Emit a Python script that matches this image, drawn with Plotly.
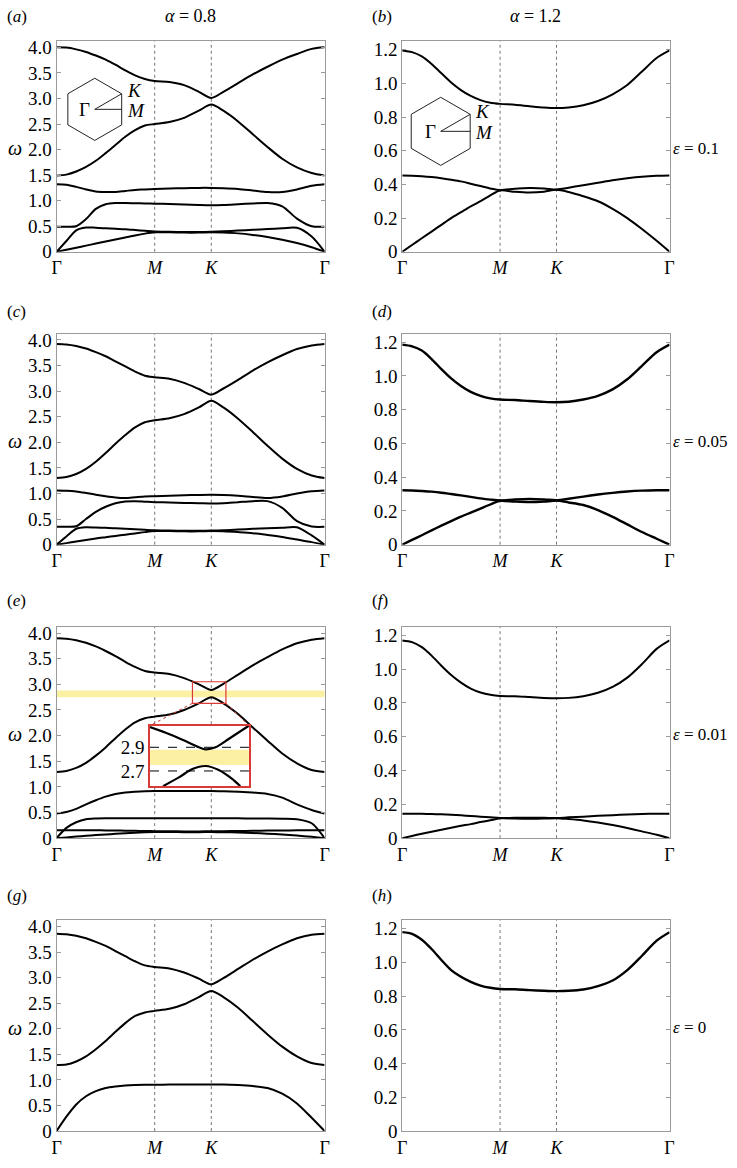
import math
import plotly.graph_objects as go

W, H = 737, 1168

# ---------------- data ----------------
kpath = [0.0, 0.1, 0.2, 0.3, 0.4, 0.5, 0.6, 0.7, 0.8, 0.9, 1.0, 1.15, 1.3, 1.45, 1.577,
         1.7, 1.85, 2.0, 2.15, 2.3, 2.45, 2.6, 2.732]
sym_pos = [0.0, 1.0, 1.577, 2.732]
sym_text = ['Γ', '<i>M</i>', '<i>K</i>', 'Γ']

left_ticks = [0, 0.5, 1.0, 1.5, 2.0, 2.5, 3.0, 3.5, 4.0]
left_tick_text = ['0', '0.5', '1.0', '1.5', '2.0', '2.5', '3.0', '3.5', '4.0']
right_ticks = [0, 0.2, 0.4, 0.6, 0.8, 1.0, 1.2]
right_tick_text = ['0', '0.2', '0.4', '0.6', '0.8', '1.0', '1.2']

# (a) alpha=0.8, eps=0.1
a_b1 = [0.0, 0.04, 0.08, 0.12, 0.16, 0.20, 0.24, 0.28, 0.32, 0.355, 0.38, 0.38, 0.375, 0.375, 0.38,
        0.375, 0.36, 0.33, 0.29, 0.235, 0.17, 0.09, 0.0]
a_b2 = [0.0, 0.21, 0.42, 0.475, 0.47, 0.46, 0.45, 0.44, 0.425, 0.41, 0.395, 0.39, 0.385, 0.385, 0.39,
        0.40, 0.415, 0.43, 0.445, 0.46, 0.47, 0.30, 0.0]
a_b3 = [0.49, 0.49, 0.50, 0.64, 0.84, 0.93, 0.955, 0.955, 0.95, 0.945, 0.94, 0.935, 0.925, 0.915, 0.91,
        0.915, 0.93, 0.945, 0.955, 0.89, 0.65, 0.50, 0.49]
a_b4 = [1.32, 1.31, 1.27, 1.22, 1.18, 1.17, 1.17, 1.19, 1.21, 1.22, 1.23, 1.24, 1.245, 1.25, 1.25,
        1.245, 1.23, 1.20, 1.17, 1.17, 1.22, 1.29, 1.32]
a_b5 = [1.49, 1.51, 1.57, 1.66, 1.78, 1.93, 2.09, 2.25, 2.38, 2.47, 2.50, 2.54, 2.62, 2.76, 2.88,
        2.76, 2.55, 2.30, 2.05, 1.82, 1.65, 1.54, 1.49]
a_b6 = [4.00, 3.995, 3.96, 3.91, 3.84, 3.76, 3.66, 3.55, 3.45, 3.38, 3.34, 3.32, 3.26, 3.13, 3.01,
        3.13, 3.30, 3.47, 3.62, 3.76, 3.87, 3.97, 4.00]

# (b) alpha=1.2, eps=0.1
b_b1 = [0.0, 0.04, 0.08, 0.12, 0.16, 0.20, 0.235, 0.27, 0.30, 0.335, 0.364, 0.356, 0.352, 0.357, 0.368,
        0.355, 0.33, 0.30, 0.255, 0.20, 0.135, 0.065, 0.0]
b_b2 = [0.453, 0.452, 0.449, 0.444, 0.437, 0.428, 0.418, 0.404, 0.39, 0.376, 0.366, 0.374, 0.378, 0.376, 0.37,
        0.38, 0.395, 0.41, 0.425, 0.437, 0.446, 0.451, 0.453]
b_b3 = [1.195, 1.185, 1.16, 1.115, 1.06, 1.005, 0.96, 0.925, 0.90, 0.885, 0.878, 0.873, 0.864, 0.856, 0.853,
        0.857, 0.87, 0.895, 0.935, 0.99, 1.07, 1.15, 1.195]

# (c) alpha=0.8, eps=0.05
c_b1 = [0.0, 0.03, 0.06, 0.09, 0.12, 0.145, 0.17, 0.195, 0.22, 0.245, 0.265, 0.265, 0.26, 0.26, 0.265,
        0.26, 0.245, 0.225, 0.19, 0.15, 0.10, 0.05, 0.0]
c_b2 = [0.0, 0.16, 0.31, 0.34, 0.335, 0.33, 0.32, 0.31, 0.30, 0.29, 0.28, 0.275, 0.27, 0.27, 0.275,
        0.28, 0.295, 0.31, 0.32, 0.33, 0.34, 0.18, 0.0]
c_b3 = [0.35, 0.35, 0.36, 0.50, 0.64, 0.74, 0.81, 0.845, 0.85, 0.84, 0.83, 0.825, 0.815, 0.81, 0.805,
        0.81, 0.83, 0.85, 0.85, 0.72, 0.46, 0.355, 0.35]
c_b4 = [1.06, 1.055, 1.04, 1.01, 0.975, 0.945, 0.92, 0.91, 0.925, 0.94, 0.946, 0.955, 0.965, 0.972, 0.975,
        0.97, 0.955, 0.93, 0.91, 0.94, 1.00, 1.045, 1.06]
c_b5 = [1.30, 1.32, 1.38, 1.48, 1.62, 1.79, 1.97, 2.14, 2.29, 2.39, 2.43, 2.47, 2.55, 2.68, 2.81,
        2.68, 2.46, 2.20, 1.93, 1.68, 1.48, 1.35, 1.30]
c_b6 = [3.92, 3.91, 3.88, 3.83, 3.76, 3.68, 3.58, 3.48, 3.38, 3.30, 3.27, 3.24, 3.16, 3.04, 2.93,
        3.05, 3.22, 3.40, 3.56, 3.70, 3.82, 3.89, 3.92]

# (d) alpha=1.2, eps=0.05
d_b1 = [0.0, 0.028, 0.056, 0.085, 0.113, 0.14, 0.166, 0.19, 0.214, 0.238, 0.26, 0.255, 0.252, 0.255, 0.261,
        0.25, 0.235, 0.205, 0.165, 0.12, 0.075, 0.035, 0.0]
d_b2 = [0.322, 0.321, 0.318, 0.314, 0.308, 0.30, 0.292, 0.283, 0.274, 0.267, 0.262, 0.268, 0.271, 0.268, 0.263,
        0.272, 0.285, 0.297, 0.307, 0.315, 0.32, 0.322, 0.322]
d_b3 = [1.185, 1.175, 1.15, 1.10, 1.04, 0.985, 0.94, 0.905, 0.882, 0.867, 0.86, 0.857, 0.851, 0.846, 0.844,
        0.847, 0.86, 0.882, 0.92, 0.98, 1.06, 1.14, 1.185]

# (e) alpha=0.8, eps=0.01
e_b1 = [0.0, 0.015, 0.03, 0.045, 0.06, 0.072, 0.084, 0.095, 0.105, 0.113, 0.118, 0.118, 0.117, 0.117, 0.118,
        0.116, 0.11, 0.10, 0.087, 0.07, 0.05, 0.025, 0.0]
e_b2 = [0.155, 0.155, 0.155, 0.154, 0.153, 0.151, 0.149, 0.146, 0.143, 0.14, 0.137, 0.134, 0.132, 0.132, 0.134,
        0.137, 0.14, 0.143, 0.147, 0.15, 0.153, 0.155, 0.155]
e_b3 = [0.0, 0.20, 0.31, 0.37, 0.385, 0.39, 0.39, 0.39, 0.39, 0.39, 0.39, 0.39, 0.39, 0.388, 0.387,
        0.387, 0.386, 0.385, 0.383, 0.38, 0.37, 0.29, 0.0]
e_b4 = [0.48, 0.51, 0.57, 0.66, 0.74, 0.81, 0.86, 0.89, 0.905, 0.915, 0.92, 0.92, 0.92, 0.92, 0.92,
        0.915, 0.905, 0.89, 0.86, 0.79, 0.66, 0.55, 0.48]
e_b5 = [1.29, 1.31, 1.37, 1.47, 1.61, 1.77, 1.95, 2.12, 2.26, 2.34, 2.37, 2.41, 2.50, 2.63, 2.75,
        2.63, 2.42, 2.16, 1.90, 1.65, 1.46, 1.33, 1.29]
e_b6 = [3.90, 3.89, 3.86, 3.81, 3.74, 3.65, 3.55, 3.44, 3.34, 3.26, 3.23, 3.20, 3.12, 3.00, 2.89,
        3.01, 3.19, 3.37, 3.53, 3.68, 3.80, 3.87, 3.90]

# (e) zoomed inset near K
ins_up_x = [1.385, 1.452, 1.509, 1.554, 1.577, 1.611, 1.656, 1.726]
ins_up_y = [3.07, 3.01, 2.95, 2.90, 2.883, 2.90, 2.97, 3.083]
ins_lo_x = [1.430, 1.486, 1.531, 1.577, 1.622, 1.668, 1.696]
ins_lo_y = [2.572, 2.648, 2.717, 2.742, 2.708, 2.633, 2.572]
ins_levels = [2.9, 2.7]
ins_level_text = ['2.9', '2.7']
gap_band = [2.75, 2.88]
zoom_box_x = [1.385, 1.726]
zoom_box_y = [2.63, 3.05]
inset_range_y = [2.572, 3.083]

# (f) alpha=1.2, eps=0.01
f_b1 = [0.0, 0.013, 0.026, 0.038, 0.05, 0.062, 0.073, 0.083, 0.095, 0.106, 0.117, 0.116, 0.115, 0.116, 0.118,
        0.113, 0.105, 0.093, 0.078, 0.06, 0.04, 0.02, 0.0]
f_b2 = [0.145, 0.145, 0.144, 0.143, 0.141, 0.138, 0.135, 0.131, 0.127, 0.123, 0.119, 0.12, 0.12, 0.12, 0.119,
        0.123, 0.127, 0.132, 0.136, 0.14, 0.143, 0.145, 0.145]
f_b3 = [1.17, 1.16, 1.13, 1.08, 1.02, 0.965, 0.92, 0.885, 0.862, 0.848, 0.841, 0.84, 0.835, 0.83, 0.828,
        0.83, 0.84, 0.86, 0.895, 0.95, 1.03, 1.12, 1.17]

# (g) alpha=0.8, eps=0
g_b1 = [0.0, 0.28, 0.52, 0.68, 0.78, 0.84, 0.87, 0.89, 0.90, 0.905, 0.905, 0.91, 0.91, 0.91, 0.91,
        0.91, 0.90, 0.88, 0.84, 0.73, 0.54, 0.26, 0.0]
g_b2 = [1.29, 1.30, 1.36, 1.46, 1.60, 1.76, 1.94, 2.11, 2.25, 2.32, 2.35, 2.39, 2.48, 2.62, 2.74,
        2.62, 2.41, 2.15, 1.89, 1.65, 1.46, 1.33, 1.29]
g_b3 = [3.86, 3.85, 3.82, 3.77, 3.70, 3.62, 3.52, 3.42, 3.32, 3.24, 3.21, 3.18, 3.10, 2.98, 2.87,
        2.99, 3.17, 3.35, 3.51, 3.65, 3.77, 3.84, 3.86]

# (h) alpha=1.2, eps=0
h_b1 = [1.18, 1.17, 1.135, 1.08, 1.015, 0.955, 0.915, 0.885, 0.863, 0.85, 0.843, 0.841, 0.836, 0.832, 0.83,
        0.832, 0.84, 0.86, 0.893, 0.955, 1.04, 1.13, 1.18]

panel_names = ['a', 'b', 'c', 'd', 'e', 'f', 'g', 'h']
panel_bands = {
    'a': [a_b1, a_b2, a_b3, a_b4, a_b5, a_b6],
    'b': [b_b1, b_b2, b_b3],
    'c': [c_b1, c_b2, c_b3, c_b4, c_b5, c_b6],
    'd': [d_b1, d_b2, d_b3],
    'e': [e_b1, e_b2, e_b3, e_b4, e_b5, e_b6],
    'f': [f_b1, f_b2, f_b3],
    'g': [g_b1, g_b2, g_b3],
    'h': [h_b1],
}
alpha_text = ['<i>α</i> = 0.8', '<i>α</i> = 1.2']
eps_text = ['<i>ε</i> = 0.1', '<i>ε</i> = 0.05', '<i>ε</i> = 0.01', '<i>ε</i> = 0']

# ---------------- layout geometry (pixels) ----------------
col_px = [(52.3, 324.0), (402.7, 673.7)]
row_px = [(37.7, 251.0), (334.0, 547.7), (631.0, 845.0), (928.3, 1141.7)]
y_top = [4.12, 1.25]
x_end = 2.732

FONT = '"Liberation Serif", "Times New Roman", Times, serif'
FRAME = '#9a9a9a'
RED = '#d93a35'
YELLOW = '#fcf1a2'


def xp(px):
    return px / W


def yp(py):
    return 1 - py / H


fig = go.Figure()
layout = dict(
    width=W, height=H, margin=dict(l=0, r=0, t=0, b=0),
    paper_bgcolor='white', plot_bgcolor='white', showlegend=False,
    font=dict(family=FONT, size=17, color='black'),
)
shapes = []
annotations = []

for i, name in enumerate(panel_names):
    n = i + 1
    r, c = divmod(i, 2)
    sfx = '' if n == 1 else str(n)
    xref, yref = 'x' + sfx, 'y' + sfx
    x0, x1 = col_px[c]
    ytp, ybt = row_px[r]
    layout['xaxis' + sfx] = dict(
        domain=[xp(x0), xp(x1)], anchor=yref, range=[0, x_end],
        showgrid=False, zeroline=False, showline=True, linecolor=FRAME, linewidth=1,
        mirror=True, ticks='', tickvals=sym_pos, ticktext=sym_text,
        tickfont=dict(family=FONT, size=18, color='black'), fixedrange=True,
    )
    layout['yaxis' + sfx] = dict(
        domain=[yp(ybt), yp(ytp)], anchor=xref, range=[0, y_top[c]],
        showgrid=False, zeroline=False, showline=True, linecolor=FRAME, linewidth=1,
        mirror='ticks', ticks='inside', ticklen=4, tickcolor=FRAME,
        tickvals=left_ticks if c == 0 else right_ticks,
        ticktext=left_tick_text if c == 0 else right_tick_text,
        tickfont=dict(family=FONT, size=19, color='black'), fixedrange=True,
    )
    for pos in sym_pos[1:3]:
        shapes.append(dict(type='line', xref=xref, yref=yref + ' domain', x0=pos, x1=pos,
                           y0=0, y1=1, line=dict(color='#777777', width=1, dash='dot'), layer='below'))
    if name == 'e':
        shapes.append(dict(type='rect', xref=xref + ' domain', yref=yref, x0=0, x1=1,
                           y0=gap_band[0], y1=gap_band[1], fillcolor=YELLOW,
                           line=dict(width=0), layer='below'))
    lw = 2.4 if name in ('d', 'h') else 2
    for band in panel_bands[name]:
        fig.add_trace(go.Scatter(x=kpath, y=band, mode='lines', xaxis=xref, yaxis=yref,
                                 line=dict(color='black', width=lw, shape='spline', smoothing=0.8),
                                 hoverinfo='skip', showlegend=False))
    if name == 'e':
        shapes.append(dict(type='rect', xref=xref, yref=yref, x0=zoom_box_x[0], x1=zoom_box_x[1],
                           y0=zoom_box_y[0], y1=zoom_box_y[1], line=dict(color=RED, width=1.2)))

    # panel letter
    label_y = [12.3, 311.7, 604.0, 903.0][r]
    annotations.append(dict(text='(<i>%s</i>)' % name, xref='paper', yref='paper',
                            x=xp(0.0 if c == 0 else 370.5), y=yp(label_y), xanchor='left',
                            yanchor='middle', showarrow=False, font=dict(family=FONT, size=17)))
    mid = (ytp + ybt) / 2 + 2
    if c == 0:
        annotations.append(dict(text='<i>ω</i>', xref='paper', yref='paper', x=xp(10), y=yp(mid),
                                xanchor='center', yanchor='middle', showarrow=False,
                                font=dict(family=FONT, size=20)))
    else:
        annotations.append(dict(text=eps_text[r], xref='paper', yref='paper', x=xp(675), y=yp(mid),
                                xanchor='left', yanchor='middle', showarrow=False,
                                font=dict(family=FONT, size=17)))

for c in range(2):
    annotations.append(dict(text=alpha_text[c], xref='paper', yref='paper',
                            x=xp((col_px[c][0] + col_px[c][1]) / 2), y=yp(12.3),
                            xanchor='center', yanchor='middle', showarrow=False,
                            font=dict(family=FONT, size=18)))

# ---------------- inset in (e) ----------------
ins_px = (147.0, 247.3, 731.0, 792.3)  # left, right, top, bottom
layout['xaxis9'] = dict(domain=[xp(ins_px[0]), xp(ins_px[1])], anchor='y9', range=zoom_box_x,
                        showgrid=False, zeroline=False, showline=True, linecolor=RED, linewidth=1.5,
                        mirror=True, ticks='', showticklabels=False, fixedrange=True)
layout['yaxis9'] = dict(domain=[yp(ins_px[3]), yp(ins_px[2])], anchor='x9', range=inset_range_y,
                        showgrid=False, zeroline=False, showline=True, linecolor=RED, linewidth=1.5,
                        mirror=True, ticks='', tickvals=ins_levels, ticktext=ins_level_text,
                        tickfont=dict(family=FONT, size=19, color='black'), fixedrange=True)
fig.add_trace(go.Scatter(x=[zoom_box_x[0], zoom_box_x[1], zoom_box_x[1], zoom_box_x[0]],
                         y=[gap_band[0], gap_band[0], gap_band[1], gap_band[1]],
                         fill='toself', fillcolor=YELLOW, mode='none', xaxis='x9', yaxis='y9',
                         hoverinfo='skip', showlegend=False))
for lev in ins_levels:
    shapes.append(dict(type='line', xref='x9 domain', yref='y9', x0=0, x1=1, y0=lev, y1=lev,
                       line=dict(color='black', width=1, dash='dash')))
fig.add_trace(go.Scatter(x=ins_up_x, y=ins_up_y, mode='lines', xaxis='x9', yaxis='y9',
                         line=dict(color='black', width=2.2, shape='spline', smoothing=0.8),
                         hoverinfo='skip', showlegend=False))
fig.add_trace(go.Scatter(x=ins_lo_x, y=ins_lo_y, mode='lines', xaxis='x9', yaxis='y9',
                         line=dict(color='black', width=2.2, shape='spline', smoothing=0.8),
                         hoverinfo='skip', showlegend=False))

# dotted connectors from zoom box (panel e) to the inset
ex0, ex1 = col_px[0]
ey_top, ey_bot = row_px[2]


def e_paper(xv, yv):
    px_ = ex0 + xv / x_end * (ex1 - ex0)
    py_ = ey_bot - yv / y_top[0] * (ey_bot - ey_top)
    return xp(px_), yp(py_)


for k, xv in enumerate(zoom_box_x):
    sx, sy = e_paper(xv, zoom_box_y[0])
    shapes.append(dict(type='line', xref='paper', yref='paper', x0=sx, y0=sy,
                       x1=xp(ins_px[k]), y1=yp(ins_px[2]),
                       line=dict(color=RED, width=1, dash='dot')))

# ---------------- Brillouin-zone hexagons ----------------
hexes = [(91.0, 106.7, 31.5), (441.7, 129.0, 34.5)]
for cx, cy, R in hexes:
    pts = []
    for k in range(6):
        ang = math.radians(90 - 60 * k)
        pts.append((cx + R * math.cos(ang), cy - R * math.sin(ang)))
    path = 'M ' + ' L '.join('%.5f,%.5f' % (xp(px_), yp(py_)) for px_, py_ in pts) + ' Z'
    shapes.append(dict(type='path', xref='paper', yref='paper', path=path,
                       line=dict(color='#222222', width=1)))
    kx, ky = pts[1]
    mx, my = cx + R * math.cos(math.radians(30)), cy
    for tx, ty in [(kx, ky), (mx, my)]:
        shapes.append(dict(type='line', xref='paper', yref='paper', x0=xp(cx), y0=yp(cy),
                           x1=xp(tx), y1=yp(ty), line=dict(color='#222222', width=1)))
    annotations.append(dict(text='Γ', xref='paper', yref='paper', x=xp(cx - 3), y=yp(cy),
                            xanchor='right', yanchor='middle', showarrow=False,
                            font=dict(family=FONT, size=19)))
    annotations.append(dict(text='<i>K</i>', xref='paper', yref='paper', x=xp(kx + 3), y=yp(ky - 3),
                            xanchor='left', yanchor='middle', showarrow=False,
                            font=dict(family=FONT, size=19)))
    annotations.append(dict(text='<i>M</i>', xref='paper', yref='paper', x=xp(mx + 3), y=yp(my + 1),
                            xanchor='left', yanchor='middle', showarrow=False,
                            font=dict(family=FONT, size=19)))

layout['shapes'] = shapes
layout['annotations'] = annotations
fig.update_layout(**layout)
# remove the browser's default 8px page margin so the figure sits at the window origin
fig.write_html('out.html', config={'displayModeBar': False},
               post_script="document.body.style.margin='0px';")
